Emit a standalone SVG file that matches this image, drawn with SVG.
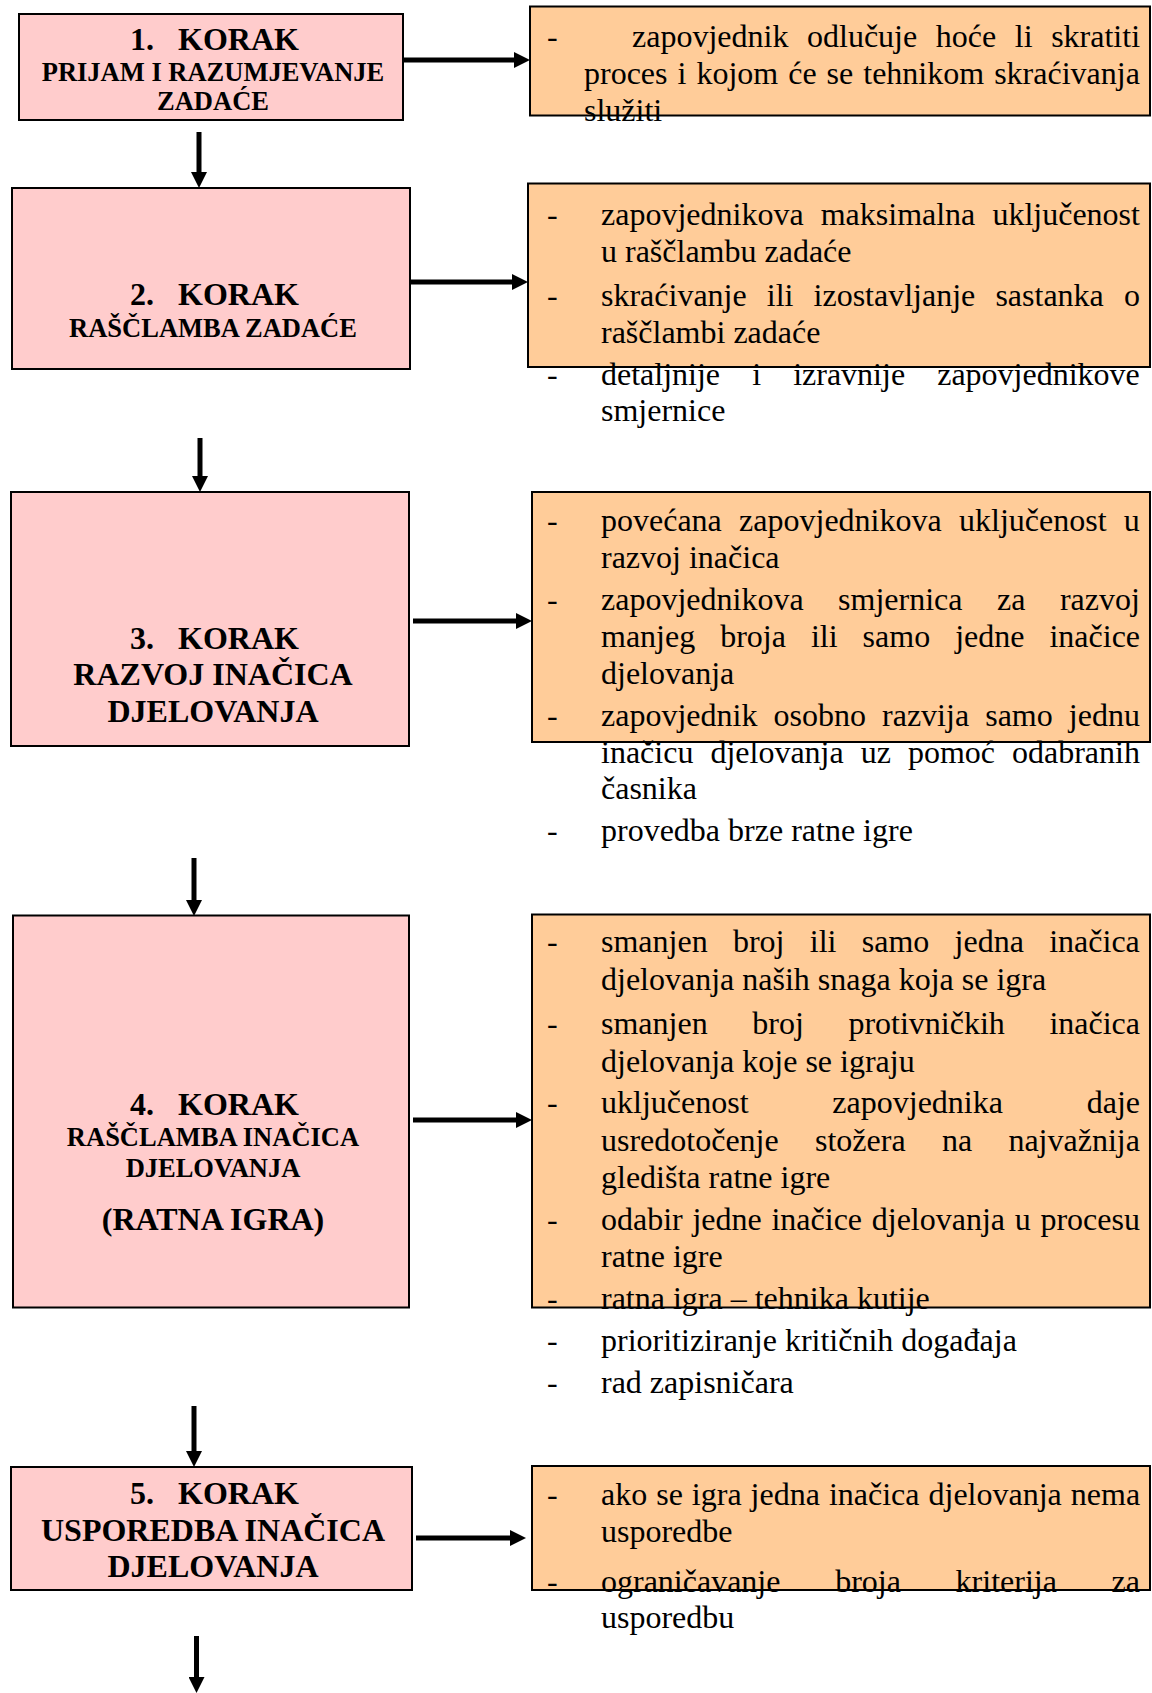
<svg xmlns="http://www.w3.org/2000/svg" width="1152" height="1693" viewBox="0 0 1152 1693">
<style>
.pink{fill:#FFCCCC;stroke:#000;stroke-width:2}
.orange{fill:#FFCC99;stroke:#000;stroke-width:2}
.h{font-family:"Liberation Serif","Times New Roman",serif;font-weight:bold;fill:#000}
.big{font-size:32px}
.sub{font-size:26.5px}
.c{text-anchor:middle}
.t{font-family:"Liberation Serif","Times New Roman",serif;font-size:32px;fill:#000}
.conn line{stroke:#000;stroke-width:5}
</style>
<defs>
<marker id="ah" viewBox="0 0 10 10" refX="0" refY="5" markerWidth="16" markerHeight="16" markerUnits="userSpaceOnUse" orient="auto">
<path d="M0,0 L10,5 L0,10 z" fill="#000"/>
</marker>
</defs>
<rect width="1152" height="1693" fill="#fff"/>

<g id="korak1">
<rect class="pink" x="19" y="14" width="384" height="106"/>
<text class="h big" x="130" y="49.5">1.</text><text class="h big" x="178" y="49.5">KORAK</text>
<text class="h sub c" x="213" y="81">PRIJAM I RAZUMJEVANJE</text>
<text class="h sub c" x="213" y="110">ZADAĆE</text>
</g>
<g id="opis1">
<rect class="orange" x="530" y="6.5" width="620" height="109"/>
<text class="t" x="547" y="46.5">-</text>
<text class="t" x="632" y="46.5" word-spacing="10.6">zapovjednik odlučuje hoće li skratiti</text>
<text class="t" x="584" y="83.5" word-spacing="2">proces i kojom će se tehnikom skraćivanja</text>
<text class="t" x="584" y="120.5">služiti</text>
</g>

<g id="korak2">
<rect class="pink" x="12" y="188" width="398" height="181"/>
<text class="h big" x="130" y="305">2.</text><text class="h big" x="178" y="305">KORAK</text>
<text class="h sub c" x="213" y="337">RAŠČLAMBA ZADAĆE</text>
</g>
<g id="opis2">
<rect class="orange" x="528" y="183.5" width="622" height="183.5"/>
<text class="t" x="547" y="224.5">-</text>
<text class="t" x="601" y="224.5" word-spacing="9.1">zapovjednikova maksimalna uključenost</text>
<text class="t" x="601" y="261.5">u raščlambu zadaće</text>
<text class="t" x="547" y="305.5">-</text>
<text class="t" x="601" y="305.5" word-spacing="12.1">skraćivanje ili izostavljanje sastanka o</text>
<text class="t" x="601" y="342.5">raščlambi zadaće</text>
<text class="t" x="547" y="384.5">-</text>
<text class="t" x="601" y="384.5" word-spacing="24.1">detaljnije i izravnije zapovjednikove</text>
<text class="t" x="601" y="420.5">smjernice</text>
</g>

<g id="korak3">
<rect class="pink" x="11" y="492" width="398" height="254"/>
<text class="h big" x="130" y="649">3.</text><text class="h big" x="178" y="649">KORAK</text>
<text class="h big c" x="213" y="685">RAZVOJ INAČICA</text>
<text class="h big c" x="213" y="722">DJELOVANJA</text>
</g>
<g id="opis3">
<rect class="orange" x="532" y="492" width="618" height="250"/>
<text class="t" x="547" y="530.5">-</text>
<text class="t" x="601" y="530.5" word-spacing="9.3">povećana zapovjednikova uključenost u</text>
<text class="t" x="601" y="567.5">razvoj inačica</text>
<text class="t" x="547" y="609.5">-</text>
<text class="t" x="601" y="609.5" word-spacing="26.5">zapovjednikova smjernica za razvoj</text>
<text class="t" x="601" y="646.5" word-spacing="17">manjeg broja ili samo jedne inačice</text>
<text class="t" x="601" y="683.5">djelovanja</text>
<text class="t" x="547" y="725.5">-</text>
<text class="t" x="601" y="725.5" word-spacing="8.1">zapovjednik osobno razvija samo jednu</text>
<text class="t" x="601" y="762.5" word-spacing="9">inačicu djelovanja uz pomoć odabranih</text>
<text class="t" x="601" y="798.5">časnika</text>
<text class="t" x="547" y="840.5">-</text>
<text class="t" x="601" y="840.5">provedba brze ratne igre</text>
</g>

<g id="korak4">
<rect class="pink" x="13" y="915.5" width="396" height="392"/>
<text class="h big" x="130" y="1115">4.</text><text class="h big" x="178" y="1115">KORAK</text>
<text class="h sub c" x="213" y="1146">RAŠČLAMBA INAČICA</text>
<text class="h sub c" x="213" y="1177">DJELOVANJA</text>
<text class="h big c" x="213" y="1230">(RATNA IGRA)</text>
</g>
<g id="opis4">
<rect class="orange" x="532" y="914.5" width="618" height="393"/>
<text class="t" x="547" y="951.5">-</text>
<text class="t" x="601" y="951.5" word-spacing="17.3">smanjen broj ili samo jedna inačica</text>
<text class="t" x="601" y="989.5">djelovanja naših snaga koja se igra</text>
<text class="t" x="547" y="1033.5">-</text>
<text class="t" x="601" y="1033.5" word-spacing="36.6">smanjen broj protivničkih inačica</text>
<text class="t" x="601" y="1071.5">djelovanja koje se igraju</text>
<text class="t" x="547" y="1112.5">-</text>
<text class="t" x="601" y="1112.5" word-spacing="75.8">uključenost zapovjednika daje</text>
<text class="t" x="601" y="1150.5" word-spacing="28.3">usredotočenje stožera na najvažnija</text>
<text class="t" x="601" y="1187.5">gledišta ratne igre</text>
<text class="t" x="547" y="1229.5">-</text>
<text class="t" x="601" y="1229.5" word-spacing="1.7">odabir jedne inačice djelovanja u procesu</text>
<text class="t" x="601" y="1266.5">ratne igre</text>
<text class="t" x="547" y="1308.5">-</text>
<text class="t" x="601" y="1308.5">ratna igra – tehnika kutije</text>
<text class="t" x="547" y="1350.5">-</text>
<text class="t" x="601" y="1350.5">prioritiziranje kritičnih događaja</text>
<text class="t" x="547" y="1392.5">-</text>
<text class="t" x="601" y="1392.5">rad zapisničara</text>
</g>

<g id="korak5">
<rect class="pink" x="11" y="1467" width="401" height="123"/>
<text class="h big" x="130" y="1504">5.</text><text class="h big" x="178" y="1504">KORAK</text>
<text class="h big c" x="213" y="1540.5">USPOREDBA INAČICA</text>
<text class="h big c" x="213" y="1577">DJELOVANJA</text>
</g>
<g id="opis5">
<rect class="orange" x="532" y="1466" width="618" height="124"/>
<text class="t" x="547" y="1504.5">-</text>
<text class="t" x="601" y="1504.5" word-spacing="1">ako se igra jedna inačica djelovanja nema</text>
<text class="t" x="601" y="1541.5">usporedbe</text>
<text class="t" x="547" y="1591.5">-</text>
<text class="t" x="601" y="1591.5" word-spacing="46.7">ograničavanje broja kriterija za</text>
<text class="t" x="601" y="1627.5">usporedbu</text>
</g>

<g id="connectors" class="conn">
<line x1="403" y1="60" x2="514" y2="60" marker-end="url(#ah)"/>
<line x1="199" y1="132" x2="199" y2="172" marker-end="url(#ah)"/>
<line x1="410" y1="282" x2="512" y2="282" marker-end="url(#ah)"/>
<line x1="200" y1="438" x2="200" y2="476" marker-end="url(#ah)"/>
<line x1="413" y1="621" x2="516" y2="621" marker-end="url(#ah)"/>
<line x1="194" y1="858" x2="194" y2="900" marker-end="url(#ah)"/>
<line x1="413" y1="1120" x2="516" y2="1120" marker-end="url(#ah)"/>
<line x1="194" y1="1406" x2="194" y2="1451" marker-end="url(#ah)"/>
<line x1="416" y1="1538" x2="510" y2="1538" marker-end="url(#ah)"/>
<line x1="196.5" y1="1636" x2="196.5" y2="1677" marker-end="url(#ah)"/>
</g>
</svg>
